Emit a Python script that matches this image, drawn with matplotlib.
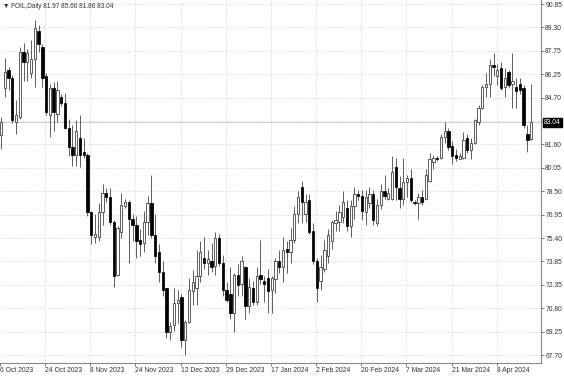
import numpy as np
import matplotlib
matplotlib.use("Agg")
import matplotlib.pyplot as plt

# ---------------------------
# Daily OHLC, FOIL
# ---------------------------
opens = [82.2, 85.3, 86.5, 86.0, 83.1, 83.4, 87.7, 87.0, 86.3, 87.2,
         89.1, 88.0, 86.1, 83.5, 85.3, 83.6, 84.7, 84.3, 82.7, 81.4,
         80.9, 82.0, 81.1, 80.9, 77.1, 75.5, 75.5, 77.1, 78.4, 78.1,
         76.5, 73.0, 75.8, 77.5, 77.8, 76.7, 76.3, 75.3, 75.1, 76.5,
         77.7, 75.6, 74.5, 73.2, 72.1, 69.2, 69.7, 71.1, 71.5, 68.7,
         69.9, 71.9, 72.1, 72.9, 74.1, 73.8, 73.9, 73.6, 75.4, 73.8,
         72.0, 71.7, 70.5, 73.0, 72.4, 73.5, 70.9, 72.1, 71.2, 73.0,
         72.6, 72.8, 72.0, 72.7, 73.9, 73.5, 74.7, 74.5, 75.3, 77.0,
         78.8, 77.0, 77.9, 75.9, 73.9, 72.6, 73.4, 74.2, 75.2, 76.4,
         76.5, 76.8, 77.4, 76.2, 77.5, 78.3, 78.2, 77.1, 77.7, 78.3,
         76.4, 77.6, 78.5, 78.0, 78.0, 80.1, 78.7, 78.0, 79.1, 79.4,
         77.8, 77.7, 78.1, 78.0, 79.2, 80.4, 80.7, 80.7, 82.1, 82.5,
         81.5, 80.9, 80.6, 80.7, 82.0, 81.2, 81.7, 83.1, 84.0, 85.4,
         85.6, 86.8, 86.1, 86.6, 85.4, 86.4, 85.6, 85.4, 85.6, 85.3,
         82.3, 81.97]
highs = [83.4, 87.3, 86.7, 86.2, 84.5, 88.0, 88.3, 87.9, 88.5, 89.8,
         89.5, 88.2, 86.3, 85.6, 85.7, 85.8, 84.9, 85.0, 83.3, 82.9,
         83.2, 83.5, 82.0, 81.0, 77.2, 77.0, 77.7, 79.0, 78.7, 78.7,
         76.6, 76.2, 78.4, 78.0, 77.9, 77.0, 76.9, 76.0, 77.2, 78.2,
         79.6, 77.0, 75.0, 73.9, 72.1, 69.9, 72.1, 72.0, 71.7, 70.0,
         72.8, 73.3, 74.6, 75.2, 75.5, 74.6, 75.1, 75.8, 75.7, 74.3,
         72.5, 73.5, 73.1, 73.7, 74.2, 73.6, 72.8, 72.6, 73.5, 75.3,
         72.9, 73.4, 72.9, 74.1, 74.6, 75.5, 75.2, 76.1, 77.5, 78.5,
         79.2, 78.3, 78.3, 76.4, 74.1, 74.3, 75.3, 76.0, 76.6, 77.2,
         77.6, 78.5, 77.9, 77.9, 78.8, 78.6, 78.6, 78.6, 78.8, 78.6,
         78.0, 79.0, 79.6, 78.7, 80.8, 80.7, 79.5, 80.7, 79.6, 80.0,
         77.9, 78.4, 78.6, 80.0, 81.0, 80.9, 80.8, 82.3, 83.1, 82.7,
         81.8, 81.3, 81.0, 82.4, 82.3, 82.0, 83.3, 84.2, 85.5, 86.3,
         87.2, 87.6, 86.9, 87.0, 86.6, 86.5, 87.6, 86.0, 86.0, 85.5,
         82.9, 85.60]
lows = [81.3, 84.7, 85.2, 83.0, 82.3, 83.3, 85.8, 85.8, 86.0, 85.4,
        87.7, 85.4, 83.5, 82.1, 82.5, 83.1, 84.1, 82.6, 80.8, 80.2,
        80.2, 80.1, 80.7, 76.9, 75.0, 75.1, 75.2, 76.3, 77.8, 76.3,
        72.2, 72.9, 75.4, 77.4, 73.8, 75.2, 74.1, 74.2, 74.5, 75.6,
        75.4, 73.8, 72.5, 71.6, 68.8, 68.7, 69.3, 69.8, 68.2, 67.7,
        69.8, 71.0, 71.0, 72.5, 73.4, 73.0, 73.2, 73.0, 73.6, 71.6,
        71.2, 70.1, 69.2, 71.6, 71.6, 70.1, 70.5, 71.0, 71.0, 72.4,
        71.2, 70.5, 70.5, 71.8, 73.1, 72.5, 73.1, 73.8, 75.1, 76.4,
        76.4, 76.5, 75.7, 73.7, 71.2, 72.0, 73.2, 73.8, 74.7, 75.9,
        75.9, 76.4, 75.9, 75.5, 76.7, 77.9, 76.6, 76.3, 77.4, 76.3,
        76.2, 77.3, 78.0, 77.9, 77.9, 77.9, 77.4, 77.6, 78.1, 77.8,
        77.6, 76.7, 77.6, 77.9, 79.1, 80.0, 80.5, 80.6, 81.7, 81.2,
        80.3, 80.5, 80.6, 80.6, 81.0, 80.6, 81.6, 82.9, 83.9, 84.7,
        84.7, 86.1, 85.5, 85.2, 84.7, 85.3, 84.0, 84.0, 84.9, 82.7,
        81.1, 81.86]
closes = [83.1, 86.4, 86.0, 83.2, 83.5, 87.7, 87.0, 87.6, 87.2, 89.3,
          88.2, 86.0, 83.7, 85.3, 83.7, 85.2, 84.3, 82.7, 81.4, 80.9,
          82.5, 80.9, 80.9, 77.1, 75.6, 75.7, 77.1, 78.4, 78.1, 76.5,
          72.9, 76.1, 77.6, 77.8, 76.7, 76.3, 75.2, 75.0, 76.5, 77.7,
          75.6, 74.2, 73.2, 72.0, 69.2, 69.6, 71.1, 71.3, 68.7, 69.9,
          72.0, 72.5, 72.9, 74.5, 73.8, 74.0, 73.5, 75.4, 73.8, 72.0,
          71.3, 70.5, 73.0, 72.3, 73.9, 70.9, 72.2, 71.2, 72.9, 72.7,
          72.4, 71.9, 72.8, 73.9, 73.5, 74.6, 74.5, 75.3, 77.0, 78.1,
          77.8, 77.8, 75.8, 73.9, 72.1, 73.5, 74.6, 75.6, 76.5, 76.6,
          77.1, 77.8, 76.2, 77.5, 78.3, 78.2, 77.2, 78.1, 78.3, 76.6,
          77.6, 78.5, 78.2, 78.4, 79.8, 78.8, 78.0, 79.1, 79.4, 77.9,
          77.7, 78.1, 77.8, 79.6, 80.6, 80.7, 80.6, 82.1, 82.5, 81.4,
          80.8, 80.7, 80.8, 81.9, 81.2, 81.7, 83.2, 84.0, 85.4, 85.6,
          86.8, 86.7, 86.5, 85.3, 86.0, 85.5, 85.8, 85.1, 85.2, 82.9,
          81.9, 83.04]

date_labels = ["6 Oct 2023", "24 Oct 2023", "8 Nov 2023", "24 Nov 2023",
               "12 Dec 2023", "29 Dec 2023", "17 Jan 2024", "2 Feb 2024",
               "20 Feb 2024", "7 Mar 2024", "21 Mar 2024", "8 Apr 2024"]
price_labels = ["67.70", "69.25", "70.80", "72.35", "73.85", "75.40", "76.95",
                "78.50", "80.05", "81.60", "", "84.70", "86.25", "87.75",
                "89.30", "90.85"]
last_price = 83.04
title = "\u25BC FOIL,Daily 81.97 85.60 81.86 83.04"

# Liberation Sans is narrow enough for the terminal labels; DejaVu for the triangle
plt.rcParams["font.family"] = ["Liberation Sans", "DejaVu Sans"]

# ---------------------------
# Geometry of the terminal window
# ---------------------------
W, H = 564, 376
plot_right = 541          # px, right border of the chart area
plot_bottom = 363         # px, bottom border
bar_step = 3.76           # px per bar
px_per_price = 15.16
top_price = 91.117

fig = plt.figure(figsize=(W / 100, H / 100), dpi=100)
ax = fig.add_axes([0, (H - plot_bottom) / H, plot_right / W, plot_bottom / H])

x = np.arange(len(opens))
o = np.array(opens); h = np.array(highs); l = np.array(lows); c = np.array(closes)
up = c >= o

ax.vlines(x, l, h, color="#444444", lw=0.6, zorder=3)
body_lo = np.minimum(o, c)
body_h = np.maximum(np.abs(c - o), 0.04)
ax.bar(x[up], body_h[up], bottom=body_lo[up], width=0.62, color="white",
       edgecolor="#333333", linewidth=0.55, zorder=4)
ax.bar(x[~up], body_h[~up], bottom=body_lo[~up], width=0.62, color="black",
       edgecolor="black", linewidth=0.55, zorder=4)

ax.set_xlim(-1 / bar_step, (plot_right - 1) / bar_step)
ax.set_ylim(top_price - plot_bottom / px_per_price, top_price)

# grid
grid_x = [(45.15 * k - 1) / bar_step for k in range(len(date_labels))]
grid_y = [67.70 + 1.5433 * k for k in range(len(price_labels))]
for gx in grid_x[1:]:
    ax.axvline(gx, color="#c4c4c4", lw=0.6, ls=(0, (1, 2)), zorder=1)
for gy in grid_y:
    ax.axhline(gy, color="#c4c4c4", lw=0.6, ls=(0, (1, 2)), zorder=1)
ax.axhline(last_price, color="#c8c8c8", lw=0.6, zorder=1)

ax.set_xticks(grid_x)
ax.set_xticklabels(date_labels, ha="left")
ax.yaxis.tick_right()
ax.set_yticks(grid_y)
ax.set_yticklabels(price_labels)
ax.tick_params(axis="both", colors="#666666", labelcolor="#333333",
               labelsize=4.9, length=2, width=0.6, pad=1)
for s in ["top", "left"]:
    ax.spines[s].set_visible(False)
for s in ["right", "bottom"]:
    ax.spines[s].set_color("#888888")
    ax.spines[s].set_linewidth(0.8)

ax.text(1.006, last_price, "83.04", transform=ax.get_yaxis_transform(),
        ha="left", va="center", fontsize=4.9, color="white",
        bbox=dict(boxstyle="square,pad=0.2", fc="black", ec="black"))

fig.text(3 / W, 1 - 6 / H, title, fontsize=4.7, color="#333333",
         ha="left", va="center")

fig.savefig("out.png", dpi=100, facecolor="white")
